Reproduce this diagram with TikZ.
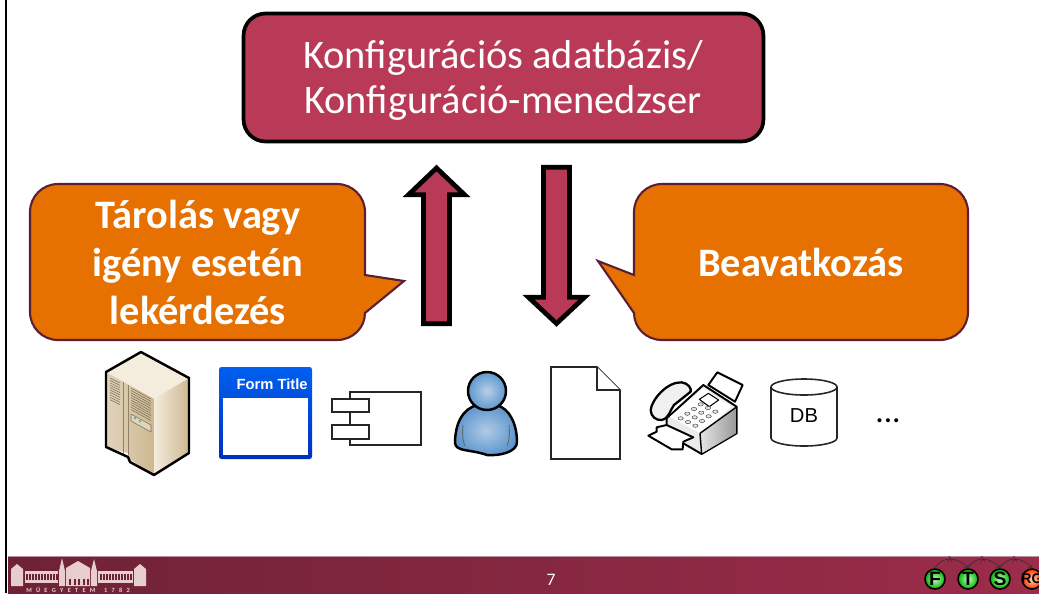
\documentclass[tikz,border=0pt]{standalone}
\usepackage{fontspec}
\setmainfont{Carlito}
\setsansfont{Liberation Sans}
\usetikzlibrary{positioning}
\definecolor{boxred}{RGB}{184,58,86}
\definecolor{calloutorange}{RGB}{230,112,0}
\definecolor{calloutline}{RGB}{92,30,50}
\definecolor{footdark}{RGB}{110,34,54}
\definecolor{footlight}{RGB}{156,44,74}
\definecolor{logopink}{RGB}{232,205,205}
\definecolor{serverlight}{RGB}{244,236,220}
\definecolor{servertan}{RGB}{205,184,145}
\definecolor{formblue}{RGB}{0,96,240}
\definecolor{formdeep}{RGB}{0,48,190}
\definecolor{personblue}{RGB}{95,150,205}
\tikzset{
  arrowshape/.style={draw=black, fill=boxred, line width=2.7pt, miter limit=10},
  callout/.style={draw=calloutline, fill=calloutorange, line width=1.2pt},
  callouttext/.style={text=white, font=\fontsize{23}{27.3}\selectfont\bfseries, align=center},
  thinicon/.style={draw=black!85, fill=white, line width=0.9pt},
  badge/.style={circle, draw=black, line width=0.9pt, minimum size=0.4cm, inner sep=0pt, inner color=green!25, outer color=green!70!black, font=\fontsize{11}{10}\selectfont\bfseries\sffamily},
  badgelink/.style={->, black!80, line width=0.4pt},
  badgelabel/.style={inner sep=0pt, text=black!80, font=\fontsize{4}{4}\selectfont},
}
\begin{document}
\begin{tikzpicture}[x=0.02cm, y=-0.02cm]
\useasboundingbox (0,0) rectangle (1039,593);
\fill[white] (0,0) rectangle (1039,593);

% top box
\node[draw=black, fill=boxred, line width=2.1pt, rounded corners=0.44cm, minimum width=10.4cm, minimum height=2.56cm] (config) at (503.5,77.5) {};
\node[text=white, align=center, font=\fontsize{23}{26}\selectfont] (configtext) at (503,80.5) {Konfigurációs adatbázis/\\Konfiguráció-menedzser};

% arrows
\draw[arrowshape] (423.5,323.7) -- (423.5,194.7) -- (408.5,194.7) -- (436.5,168) -- (464.5,194.7) -- (449.5,194.7) -- (449.5,323.7) -- cycle;
\draw[arrowshape] (543.5,167.3) -- (569.5,167.3) -- (569.5,297.3) -- (584.5,297.3) -- (556.5,323.5) -- (528.5,297.3) -- (543.5,297.3) -- cycle;

% callouts
\draw[callout] (58,184) -- (337,184) .. controls (352.5,184) and (365,196.5) .. (365,212) -- (365,275) -- (404,281) -- (365,313) .. controls (365,328) and (352.5,340) .. (337,340) -- (58,340) .. controls (42.5,340) and (30,327.5) .. (30,312) -- (30,212) .. controls (30,196.5) and (42.5,184) .. (58,184) -- cycle;
\draw[callout] (662,184) -- (940,184) .. controls (955.5,184) and (968,196.5) .. (968,212) -- (968,312) .. controls (968,327.5) and (955.5,340) .. (940,340) -- (662,340) .. controls (646.5,340) and (634,328) .. (634,313) -- (598,261) -- (634,275) -- (634,212) .. controls (634,196.5) and (646.5,184) .. (662,184) -- cycle;
\node[callouttext] (store) at (198,262) {Tárolás vagy\\igény esetén\\lekérdezés};
\node[callouttext] (act) at (801,262) {Beavatkozás};

% server
\begin{scope}[line join=round]
\fill[serverlight] (141,352) -- (106,372) -- (154,399) -- (189,378) -- cycle;
\shade[left color=servertan!60, right color=servertan] (106,372) -- (154,399) -- (154,475) -- (128,458) -- (128,453) -- (106,447) -- cycle;
\shade[left color=serverlight, right color=servertan] (154,399) -- (189,378) -- (189,453) -- (154,475) -- cycle;
\draw[servertan!70!black, line width=0.4pt] (123,382) -- (123,455) (128,385) -- (128,455);
\foreach \i in {0,...,9} {
  \draw[servertan!60!black, line width=0.3pt] (110,378+\i*2.4) -- (120,383+\i*2.4);
  \draw[servertan!60!black, line width=0.3pt] (131,388+\i*2.4) -- (151,399+\i*2.4);
}
\draw[servertan!60!black, fill=servertan!60, line width=0.3pt] (131,414) -- (151,425) -- (151,432) -- (131,421) -- cycle;
\fill[teal!60] (135,418) circle (1.5) (140,421) circle (1.5);
\draw[black, line width=1.4pt] (141,352) -- (106,372) -- (106,447) -- (128,457) -- (130,462) -- (154,475) -- (189,453) -- (189,378) -- cycle;
\end{scope}

% form
\shade[top color=formblue, bottom color=formdeep, rounded corners=0.05cm] (219,367) rectangle (312,459);
\fill[white] (223,398) rectangle (308,455);
\node[left, inner sep=0pt, text=white, font=\fontsize{8.4}{8}\selectfont\bfseries\sffamily] (formtitle) at (308,384) {Form Title};

% component
\draw[thinicon] (350,392) rectangle (421,445);
\draw[thinicon] (332,399) rectangle (369,412);
\draw[thinicon] (332,425) rectangle (369,439);

% person
\draw[black, line width=1.4pt, inner color=personblue!50, outer color=personblue] (478,405) .. controls (462,408) and (455,425) .. (455,443) .. controls (456,452) and (470,449) .. (487,455) .. controls (500,456) and (517,452) .. (517,442) .. controls (517,425) and (510,408) .. (496,405) -- cycle;
\draw[black!60, line width=0.5pt] (463,425) .. controls (462,435) and (463,442) .. (465,446) (509,425) .. controls (510,435) and (509,442) .. (507,446);
\draw[black, line width=1.4pt, inner color=personblue!45, outer color=personblue] (487,391) circle (19);

% page
\draw[thinicon] (551,367) -- (597,367) -- (620,390) -- (620,459) -- (551,459) -- cycle;
\draw[thinicon] (597,367) -- (597,390) -- (620,390);

% fax, in the coordinates of a 3x crop
\begin{scope}[shift={(440,350)}, x=0.00667cm, y=-0.00667cm, line join=round]
\draw[black, fill=white, line width=1.1pt] (805,105) -- (832,67) -- (908,105) -- (885,155) -- cycle;
\draw[black, fill=black!8, line width=1.1pt] (680,205) -- (790,105) -- (890,170) -- (890,250) -- (785,312) -- (730,280) -- (680,240) -- cycle;
\fill[white] (690,200) -- (790,115) -- (875,170) -- (780,250) -- cycle;
\shade[left color=black!10, right color=black!40] (780,250) -- (888,172) -- (888,250) -- (785,310) -- cycle;
\draw[black, line width=0.8pt] (780,250) -- (888,172);
\draw[black, line width=0.8pt] (780,250) -- (785,312);
\draw[black, fill=black!6, line width=1.3pt] (632,180) .. controls (635,150) and (680,95) .. (725,97) .. controls (745,100) and (755,115) .. (752,125) -- (702,165) .. controls (690,180) and (688,205) .. (665,210) .. controls (650,212) and (632,200) .. (632,180) -- cycle;
\draw[black, fill=white, line width=0.6pt] (778,148) -- (805,130) -- (836,150) -- (808,170) -- cycle;
\foreach \a in {0,1,2}
  \foreach \b in {0,1,2,3}
    \draw[black!70, fill=black!10, line width=0.3pt] (722+\a*22+\b*20,205+\a*11-\b*14) circle (8 and 5);
\draw[black, fill=white, line width=1.1pt] (625,257) -- (650,245) -- (650,232) -- (680,225) -- (760,262) -- (730,275) -- (728,298) -- (695,298) -- cycle;
\end{scope}

% database
\draw[thinicon] (771,387) -- (771,438) arc[start angle=180, end angle=360, x radius=33, y radius=-8] -- (837,387);
\draw[thinicon] (804,387) ellipse (33 and 8);
\node[font=\fontsize{11.5}{12}\selectfont\sffamily] (dbtext) at (804,416) {DB};
\node[font=\fontsize{19}{19}\selectfont] (more) at (888,421) {...};

% footer
\shade[left color=footdark, right color=footlight] (8,556) rectangle (1039,593);
\draw[footdark!50!white, line width=0.5pt] (8,556.5) -- (1039,556.5);
\draw[black, line width=1.3pt] (6,0) -- (6,593);
\node[text=white, font=\fontsize{10}{10}\selectfont] (pagenum) at (551,580) {7};

% university logo
\begin{scope}[logopink]
\fill (11,586) -- (11,569) -- (17,564) -- (23,569) -- (23,586) -- cycle;
\fill (134,586) -- (134,569) -- (140,564) -- (146,569) -- (146,586) -- cycle;
\fill (25,571) rectangle (58,583);
\fill (98,571) rectangle (133,583);
\fill (59,586) -- (59,571) -- (62,558) -- (65,571) -- (65,586) -- cycle;
\fill (91,586) -- (91,571) -- (94,559) -- (97,571) -- (97,586) -- cycle;
\fill (66,586) -- (66,568) -- (78,561) -- (90,568) -- (90,586) -- cycle;
\foreach \i in {0,...,10} {
  \fill[footdark] (26+\i*3,574) rectangle (27.5+\i*3,580);
  \fill[footdark] (100+\i*3,574) rectangle (101.5+\i*3,580);
}
\foreach \i in {0,...,4}
  \fill[footdark] (69+\i*4.5,579) rectangle (71+\i*4.5,585);
\node[text=logopink, inner sep=0pt, font=\fontsize{3.6}{4}\selectfont\bfseries] (logotext) at (78,590) {M\ \ \ Ű\ \ \ E\ \ \ G\ \ \ Y\ \ \ E\ \ \ T\ \ \ E\ \ \ M\ \ \ \ \ \ 1\ \ \ 7\ \ \ 8\ \ \ 2};
\end{scope}

% research group badges
\node[badge] (f) at (935,579) {F};
\node[badge] (t) at (968,579) {T};
\node[badge] (s) at (1000,579) {S};
\node[badge, inner color=orange!30, outer color=red!60!orange] (rg) at (1032,579) {\makebox[0pt]{\fontsize{8}{8}\selectfont RG}};
\draw[badgelink] (f.north) .. controls +(6,-12) and +(-10,-12) .. node[badgelabel] (fl) {$\lambda$} (t.north);
\draw[badgelink] (t.north) .. controls +(6,-12) and +(-10,-12) .. node[badgelabel] (tl) {$\lambda$} (s.north);
\draw[badgelink] (s.north) .. controls +(6,-12) and +(-10,-12) .. node[badgelabel] (sl) {$\lambda$} (rg.north);
\end{tikzpicture}
\end{document}
